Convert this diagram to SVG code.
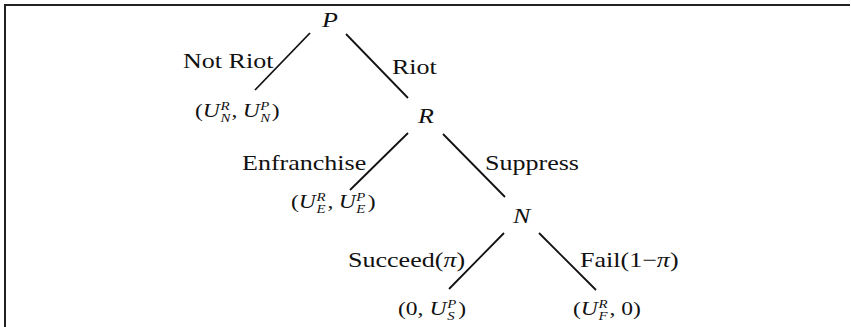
<svg xmlns="http://www.w3.org/2000/svg" width="851" height="327" viewBox="0 0 851 327">
<style>
text{font-family:"Liberation Serif","Times New Roman",serif;fill:#111}
.lab{font-size:21px}
.node{font-size:21px;font-style:italic}
.pay{font-size:19px}
.it{font-style:italic}
.sc{font-size:12px;font-style:italic}
.edge{stroke:#111;stroke-width:1.8;fill:none}
.frame{stroke:#222;stroke-width:2;fill:none}
</style>
<rect width="851" height="327" fill="#fff"/>
<path class="frame" d="M5,327V5H850"/>
<g id="connectors">
<line class="edge" x1="310" y1="33" x2="255" y2="90"/>
<line class="edge" x1="346" y1="34" x2="408" y2="98"/>
<line class="edge" x1="408" y1="133" x2="350" y2="190"/>
<line class="edge" x1="443" y1="134" x2="505" y2="197"/>
<line class="edge" x1="504" y1="233" x2="449" y2="289"/>
<line class="edge" x1="539" y1="233" x2="596" y2="290"/>
<text class="lab" transform="translate(183,68) scale(1.24,1)">Not Riot</text>
<text class="lab" transform="translate(392,74) scale(1.24,1)">Riot</text>
<text class="lab" transform="translate(242,170) scale(1.24,1)">Enfranchise</text>
<text class="lab" transform="translate(485,170) scale(1.24,1)">Suppress</text>
<text class="lab" transform="translate(348,267) scale(1.24,1)">Succeed(<tspan class="it">π</tspan>)</text>
<text class="lab" transform="translate(580,267) scale(1.24,1)">Fail(1−<tspan class="it">π</tspan>)</text>
</g>
<g id="node-P"><text class="node" transform="translate(322,27) scale(1.24,1)">P</text></g>
<g id="node-R"><text class="node" transform="translate(418,123) scale(1.24,1)">R</text></g>
<g id="node-N"><text class="node" transform="translate(513,223) scale(1.24,1)">N</text></g>
<g id="leaf-notriot"><text class="pay" transform="translate(195,117) scale(1.24,1)"><tspan x="0" y="0">(</tspan><tspan class="it" x="6.3" y="0">U</tspan><tspan class="sc" x="20.5" y="-7">R</tspan><tspan class="sc" x="20.5" y="5">N</tspan><tspan x="29.5" y="0">,</tspan><tspan class="it" x="38.5" y="0">U</tspan><tspan class="sc" x="52.7" y="-7">P</tspan><tspan class="sc" x="52.7" y="5">N</tspan><tspan x="62" y="0">)</tspan></text></g>
<g id="leaf-enfranchise"><text class="pay" transform="translate(291,208) scale(1.24,1)"><tspan x="0" y="0">(</tspan><tspan class="it" x="6.3" y="0">U</tspan><tspan class="sc" x="20.5" y="-7">R</tspan><tspan class="sc" x="20.5" y="5">E</tspan><tspan x="29.5" y="0">,</tspan><tspan class="it" x="38.5" y="0">U</tspan><tspan class="sc" x="52.7" y="-7">P</tspan><tspan class="sc" x="52.7" y="5">E</tspan><tspan x="62" y="0">)</tspan></text></g>
<g id="leaf-succeed"><text class="pay" transform="translate(398,315) scale(1.24,1)"><tspan x="0" y="0">(0,</tspan><tspan class="it" x="25.5" y="0">U</tspan><tspan class="sc" x="39.7" y="-7">P</tspan><tspan class="sc" x="39.7" y="5">S</tspan><tspan x="48.5" y="0">)</tspan></text></g>
<g id="leaf-fail"><text class="pay" transform="translate(573,315) scale(1.24,1)"><tspan x="0" y="0">(</tspan><tspan class="it" x="6.3" y="0">U</tspan><tspan class="sc" x="20.5" y="-7">R</tspan><tspan class="sc" x="20.5" y="5">F</tspan><tspan x="29.5" y="0">, 0)</tspan></text></g>
</svg>
